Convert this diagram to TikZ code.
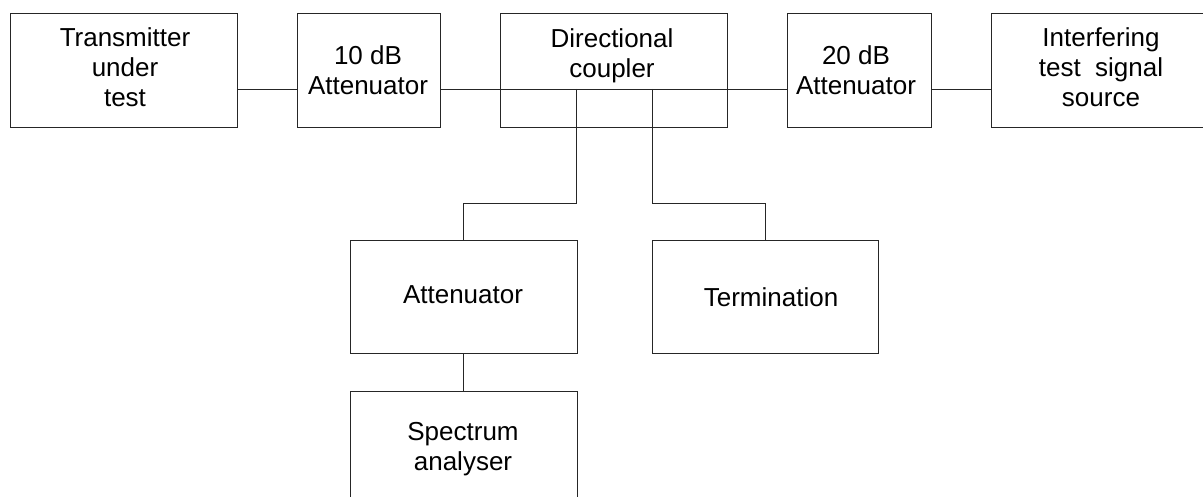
\documentclass[tikz,border=0pt]{standalone}
\usepackage{fontspec}
\setmainfont{Liberation Sans}
\begin{document}
\begin{tikzpicture}[x=0.5pt,y=-0.5pt,
  box/.style={draw=black!85,line width=0.45pt,rectangle,inner sep=0pt},
  lbl/.style={align=center,font=\fontsize{13}{15}\selectfont,inner sep=0pt},
  wire/.style={draw=black!85,line width=0.45pt}]
\useasboundingbox (0,0) rectangle (1203,497);
\clip (0,0) rectangle (1203,497);
% boxes
\node[box,minimum width=113.5pt,minimum height=57pt] (tx) at (123.5,70) {};
\node[box,minimum width=71.5pt,minimum height=57pt] (a10) at (368.5,70) {};
\node[box,minimum width=113.5pt,minimum height=57pt] (dc) at (613.5,70) {};
\node[box,minimum width=72pt,minimum height=57pt] (a20) at (859,70) {};
\node[box,minimum width=116pt,minimum height=57pt] (src) at (1107,70) {};
\node[box,minimum width=113.5pt,minimum height=56.5pt] (att) at (463.5,296.5) {};
\node[box,minimum width=113pt,minimum height=56.5pt] (term) at (765,296.5) {};
\node[box,minimum width=113.5pt,minimum height=62pt] (spec) at (463.5,453) {};
% labels
\node[lbl] (txl) at (125,67) {Transmitter\\under\\test};
\node[lbl] (a10l) at (368,70) {10 dB\\Attenuator};
\node[lbl] (dcl) at (612,56) {Directional\\coupler};
\node[lbl] (a20l) at (856,70) {20 dB\\Attenuator};
\node[lbl] (srcl) at (1101,67) {Interfering\\test\ \ signal\\source};
\node[lbl] (attl) at (463,295) {Attenuator};
\node[lbl] (terml) at (771,297) {Termination};
\node[lbl] (specl) at (463,449) {Spectrum\\analyser};
% connectors
\coordinate (hy) at (0,89);
\coordinate (p1) at (576,89);
\coordinate (p2) at (652,89);
\draw[wire] (tx.east |- hy) -- (a10.west |- hy);
\draw[wire] (a10.east |- hy) -- (a20.west |- hy);
\draw[wire] (a20.east |- hy) -- (src.west |- hy);
\draw[wire] (p1) -- ++(0,114) -| (att.north);
\draw[wire] (p2) -- ++(0,114) -| (term.north);
\draw[wire] (att.south) -- (spec.north);
\end{tikzpicture}
\end{document}
